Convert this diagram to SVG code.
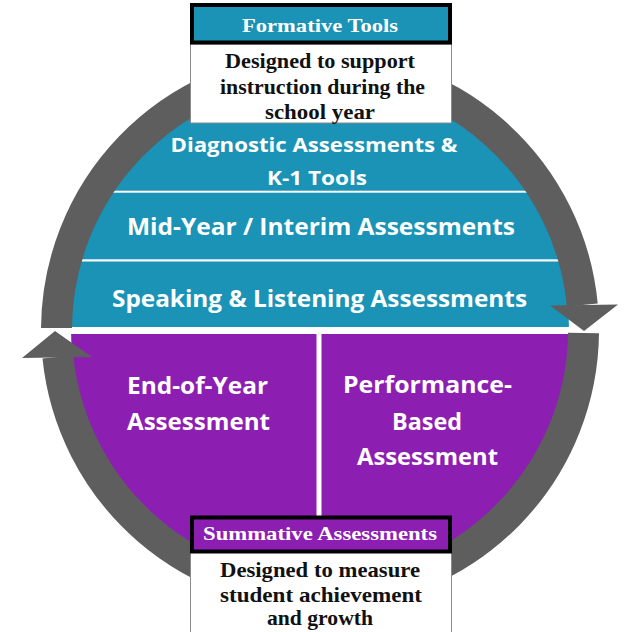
<svg xmlns="http://www.w3.org/2000/svg" width="628" height="632" viewBox="0 0 628 632">
<style>
.teal{fill:#1a93b6}
.purple{fill:#8c1fb2}
.sans{font-family:"Open Sans","Liberation Sans",sans-serif;font-weight:700;fill:#ffffff;text-anchor:middle}
.serifH{font-family:"Liberation Serif","Times New Roman",serif;font-weight:700;fill:#ffffff;text-anchor:middle;font-size:19.5px}
.serifB{font-family:"Liberation Serif","Times New Roman",serif;font-weight:700;fill:#111111;text-anchor:middle;font-size:22px}
.ring{fill:none;stroke:#5e5e5e;stroke-width:31}
.head{stroke:#000;stroke-width:4}
.body{fill:#fff;stroke:#8a8a8a;stroke-width:1}
</style>
<defs>
<clipPath id="disk"><circle cx="320" cy="330" r="249"/></clipPath>
</defs>
<rect width="628" height="632" fill="#fff"/>

<g id="diagnostic" clip-path="url(#disk)">
<rect class="teal" x="60" y="60" width="520" height="130.7"/>
<text class="sans" x="314" y="152" font-size="20" textLength="287" lengthAdjust="spacingAndGlyphs">Diagnostic Assessments &amp;</text>
<text class="sans" x="317" y="185" font-size="20" textLength="100" lengthAdjust="spacingAndGlyphs">K-1 Tools</text>
</g>
<g id="midyear" clip-path="url(#disk)">
<rect class="teal" x="60" y="192.7" width="520" height="66.6"/>
<text class="sans" x="321" y="235" font-size="23" textLength="388" lengthAdjust="spacingAndGlyphs">Mid-Year / Interim Assessments</text>
</g>
<g id="speaking" clip-path="url(#disk)">
<rect class="teal" x="60" y="261.5" width="520" height="65.5"/>
<text class="sans" x="319.5" y="307" font-size="23" textLength="415" lengthAdjust="spacingAndGlyphs">Speaking &amp; Listening Assessments</text>
</g>
<g id="endofyear" clip-path="url(#disk)">
<rect class="purple" x="60" y="334" width="256.5" height="260"/>
<text class="sans" x="197.5" y="394" font-size="23" textLength="141" lengthAdjust="spacingAndGlyphs">End-of-Year</text>
<text class="sans" x="198.5" y="430" font-size="23" textLength="143" lengthAdjust="spacingAndGlyphs">Assessment</text>
</g>
<g id="performance" clip-path="url(#disk)">
<rect class="purple" x="321.5" y="334" width="260" height="260"/>
<text class="sans" x="427.5" y="393" font-size="23" textLength="169" lengthAdjust="spacingAndGlyphs">Performance-</text>
<text class="sans" x="427" y="430" font-size="23" textLength="70" lengthAdjust="spacingAndGlyphs">Based</text>
<text class="sans" x="427.5" y="465" font-size="23" textLength="141" lengthAdjust="spacingAndGlyphs">Assessment</text>
</g>

<g id="connectors">
<path class="ring" d="M 56.5 328 A 263.5 263.5 0 0 1 582.3 305"/>
<polygon fill="#5e5e5e" points="550,305.5 618,304.5 584,331"/>
<path class="ring" d="M 583.5 333 A 263.5 263.5 0 0 1 57.9 357"/>
<polygon fill="#5e5e5e" points="22,358 92,357 55,331"/>
</g>

<g id="formative">
<rect class="body" x="190.5" y="44" width="261" height="79"/>
<rect class="head teal" x="192" y="5" width="258" height="37.5"/>
<text class="serifH" x="320" y="32" textLength="156" lengthAdjust="spacingAndGlyphs">Formative Tools</text>
<text class="serifB" x="320" y="68" textLength="190" lengthAdjust="spacingAndGlyphs">Designed to support</text>
<text class="serifB" x="322.5" y="94" textLength="205" lengthAdjust="spacingAndGlyphs">instruction during the</text>
<text class="serifB" x="320" y="118.5" textLength="110" lengthAdjust="spacingAndGlyphs">school year</text>
</g>

<g id="summative">
<rect class="body" x="190.5" y="552" width="261" height="90"/>
<rect class="head purple" x="192" y="517.5" width="258" height="34"/>
<text class="serifH" x="320" y="540" textLength="234" lengthAdjust="spacingAndGlyphs">Summative Assessments</text>
<text class="serifB" x="320" y="577" textLength="200" lengthAdjust="spacingAndGlyphs">Designed to measure</text>
<text class="serifB" x="321" y="602" textLength="202" lengthAdjust="spacingAndGlyphs">student achievement</text>
<text class="serifB" x="320" y="625" textLength="106" lengthAdjust="spacingAndGlyphs">and growth</text>
</g>
</svg>
